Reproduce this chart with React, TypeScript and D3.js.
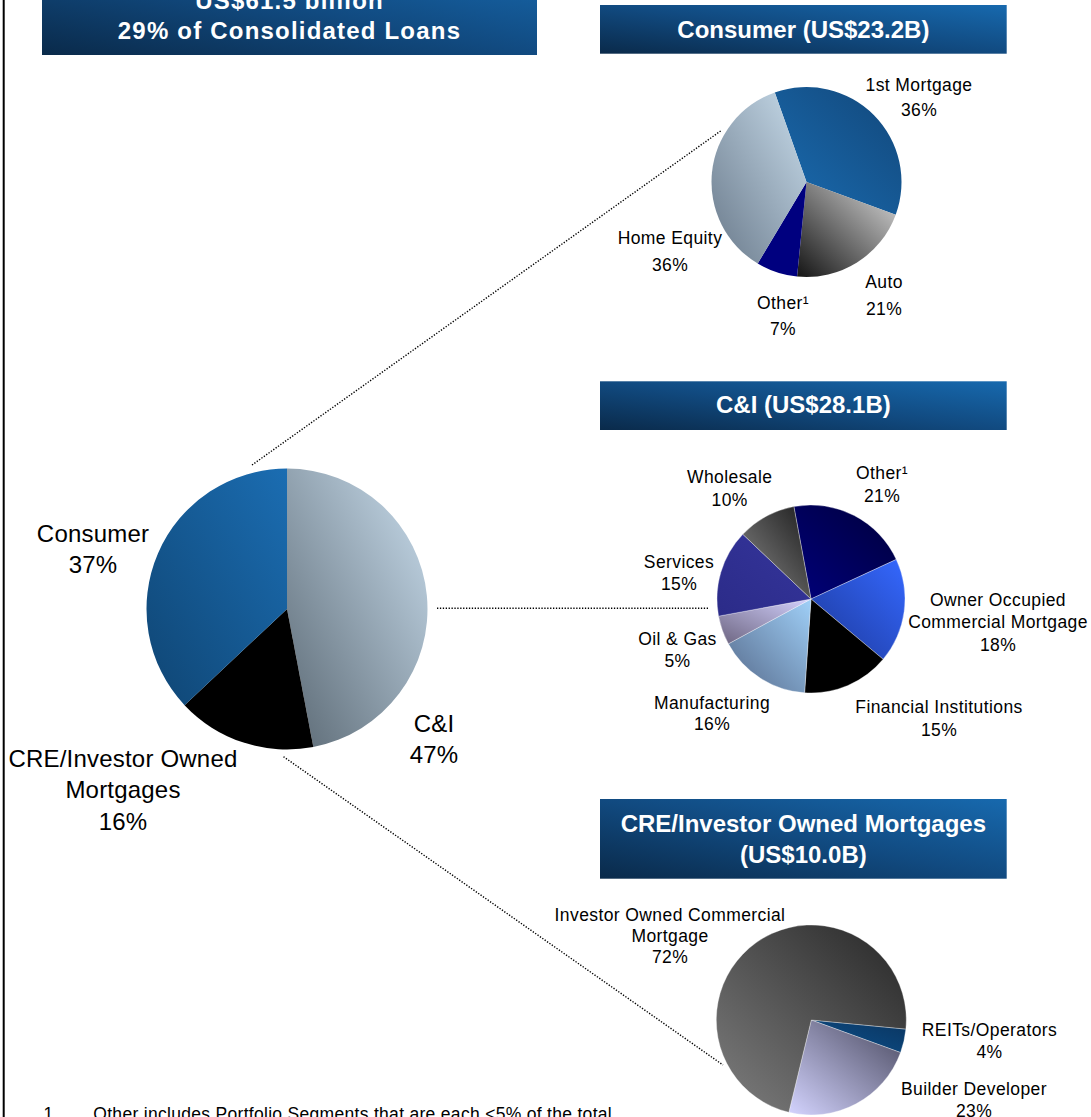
import React from "react";
import * as d3 from "d3";

// ---------- DATA ----------
const mainCategories = ["C&I", "CRE/Investor Owned\nMortgages", "Consumer"];
const mainValues = [47, 16, 37];

const consumerCategories = ["1st Mortgage", "Auto", "Other¹", "Home Equity"];
const consumerValues = [36, 21, 7, 36];

const ciCategories = [
  "Other¹",
  "Owner Occupied\nCommercial Mortgage",
  "Financial Institutions",
  "Manufacturing",
  "Oil & Gas",
  "Services",
  "Wholesale",
];
const ciValues = [21, 18, 15, 16, 5, 15, 10];

const creCategories = ["REITs/Operators", "Builder Developer", "Investor Owned Commercial\nMortgage"];
const creValues = [4, 23, 72];

const mainTitleLines = ["US$61.5 billion", "29% of Consolidated Loans"];
const consumerTitle = ["Consumer (US$23.2B)"];
const ciTitle = ["C&I (US$28.1B)"];
const creTitle = ["CRE/Investor Owned Mortgages", "(US$10.0B)"];
const footnoteNumber = "1";
const footnoteText = "Other includes Portfolio Segments that are each <5% of the total";

// ---------- STYLE / LAYOUT ----------
const FONT = "Arial, 'Liberation Sans', Helvetica, sans-serif";

type Fill = { bl: string; tr: string };
const mainFills: Fill[] = [
  { bl: "#5b6974", tr: "#cadeee" },
  { bl: "#000000", tr: "#000000" },
  { bl: "#0f4573", tr: "#1b6db2" },
];
const consumerFills: Fill[] = [
  { bl: "#1a6cb1", tr: "#12477a" },
  { bl: "#141414", tr: "#dcdcdc" },
  { bl: "#00007f", tr: "#00007f" },
  { bl: "#69798a", tr: "#c9ddec" },
];
const ciFills: Fill[] = [
  { bl: "#00007a", tr: "#00003c" },
  { bl: "#1c3899", tr: "#3568ff" },
  { bl: "#000000", tr: "#000000" },
  { bl: "#55698a", tr: "#a0d0f8" },
  { bl: "#6c6480", tr: "#d4d2ff" },
  { bl: "#2b2b88", tr: "#35359c" },
  { bl: "#8a8a8a", tr: "#1c1c1c" },
];
const creFills: Fill[] = [
  { bl: "#0d518d", tr: "#0a3560" },
  { bl: "#d4d4ff", tr: "#48485e" },
  { bl: "#7f7f7f", tr: "#262626" },
];

type LabelPos = { x: number; y: number; lh: number };
const mainLabelPos: LabelPos[] = [
  { x: 434, y: 731.7, lh: 31.6 },
  { x: 123, y: 766.7, lh: 31.6 },
  { x: 93, y: 541.7, lh: 31.6 },
];
const consumerLabelPos: LabelPos[] = [
  { x: 919, y: 90.7, lh: 25.5 },
  { x: 884, y: 288.3, lh: 26.5 },
  { x: 783, y: 309.3, lh: 25.7 },
  { x: 670, y: 244, lh: 26.5 },
];
const ciLabelPos: LabelPos[] = [
  { x: 882, y: 479, lh: 22.7 },
  { x: 998, y: 606, lh: 22.4 },
  { x: 939, y: 713.3, lh: 22.4 },
  { x: 712, y: 709, lh: 21.2 },
  { x: 677.5, y: 645, lh: 21.7 },
  { x: 679, y: 568.3, lh: 21.7 },
  { x: 729.7, y: 483.3, lh: 22.7 },
];
const creLabelPos: LabelPos[] = [
  { x: 989.5, y: 1036, lh: 22.3 },
  { x: 974, y: 1095, lh: 21.7 },
  { x: 670, y: 920.7, lh: 21.3 },
];

const connectors = [
  [[252, 465], [722, 130]],
  [[437, 608.3], [709, 608.3]],
  [[283.5, 756.7], [723, 1065]],
];

// ---------- COMPONENTS ----------
function Pie(props: {
  id: string;
  values: number[];
  categories: string[];
  fills: Fill[];
  labels: LabelPos[];
  cx: number;
  cy: number;
  r: number;
  startDeg: number;
  fontSize: number;
  letterSpacing: number;
  sep: boolean;
}) {
  const { id, values, categories, fills, labels, cx, cy, r, startDeg, fontSize, letterSpacing, sep } = props;
  const s = (startDeg * Math.PI) / 180;
  const pie = d3
    .pie<number>()
    .sort(null)
    .startAngle(s)
    .endAngle(s + 2 * Math.PI)
    .value((d) => d);
  const arcs = pie(values);
  const arc = d3.arc<d3.PieArcDatum<number>>().innerRadius(0).outerRadius(r);
  return (
    <g>
      <defs>
        {fills.map((f, i) => (
          <linearGradient key={i} id={`${id}-g${i}`} x1="0" y1="1" x2="1" y2="0">
            <stop offset="0" stopColor={f.bl} />
            <stop offset="1" stopColor={f.tr} />
          </linearGradient>
        ))}
      </defs>
      <g transform={`translate(${cx},${cy})`}>
        {arcs.map((a, i) => (
          <path
            key={i}
            d={arc(a) || ""}
            fill={`url(#${id}-g${i})`}
            stroke={sep ? "rgba(255,255,255,0.55)" : "none"}
            strokeWidth={sep ? 0.6 : 0}
          />
        ))}
      </g>
      {categories.map((c, i) => {
        const lines = c.split("\n").concat([`${values[i]}%`]);
        const p = labels[i];
        return (
          <text
            key={i}
            textAnchor="middle"
            fontFamily={FONT}
            fontSize={fontSize}
            letterSpacing={letterSpacing}
            fill="#000"
          >
            {lines.map((l, j) => (
              <tspan key={j} x={p.x} y={p.y + j * p.lh}>
                {l}
              </tspan>
            ))}
          </text>
        );
      })}
    </g>
  );
}

function Header(props: {
  id: string;
  x: number;
  y: number;
  w: number;
  h: number;
  lines: string[];
  baselines: number[];
  letterSpacing?: number;
}) {
  const { id, x, y, w, h, lines, baselines, letterSpacing = 0 } = props;
  return (
    <g>
      <defs>
        <linearGradient id={id} x1="0" y1="1" x2="1" y2="0">
          <stop offset="0" stopColor="#0a2a4a" />
          <stop offset="0.5" stopColor="#114a80" />
          <stop offset="1" stopColor="#1769ae" />
        </linearGradient>
      </defs>
      <rect x={x} y={y} width={w} height={h} fill={`url(#${id})`} />
      {lines.map((l, i) => (
        <text
          key={i}
          x={x + w / 2}
          y={baselines[i]}
          textAnchor="middle"
          fontFamily={FONT}
          fontWeight="bold"
          fontSize={24}
          letterSpacing={letterSpacing}
          fill="#ffffff"
        >
          {l}
        </text>
      ))}
    </g>
  );
}

export default function App() {
  return (
    <svg
      width={1091}
      height={1117}
      viewBox="0 0 1091 1117"
      style={{ position: "absolute", left: 0, top: 0, display: "block", background: "#fff" }}
    >
      <rect x={0} y={0} width={1091} height={1117} fill="#fff" />
      {/* left frame line */}
      <rect x={2.7} y={0} width={2} height={1117} fill="#000" />

      <Header id="hMain" x={42} y={-40} w={495} h={95} lines={mainTitleLines} baselines={[9, 39.3]} letterSpacing={1.2} />
      <Header id="hCons" x={600} y={5} w={406.7} h={48.7} lines={consumerTitle} baselines={[38.3]} />
      <Header id="hCI" x={600} y={381.3} w={406.7} h={48.7} lines={ciTitle} baselines={[413.3]} />
      <Header id="hCRE" x={600} y={799} w={406.7} h={79.7} lines={creTitle} baselines={[831.7, 862.7]} />

      {connectors.map((c, i) => (
        <line
          key={i}
          x1={c[0][0]}
          y1={c[0][1]}
          x2={c[1][0]}
          y2={c[1][1]}
          stroke="#000"
          strokeWidth={1.4}
          strokeDasharray="1.3 1.6"
        />
      ))}

      <Pie
        id="main"
        values={mainValues}
        categories={mainCategories}
        fills={mainFills}
        labels={mainLabelPos}
        cx={287}
        cy={609}
        r={140.5}
        startDeg={0}
        fontSize={24}
        letterSpacing={0.2}
        sep={false}
      />
      <Pie
        id="cons"
        values={consumerValues}
        categories={consumerCategories}
        fills={consumerFills}
        labels={consumerLabelPos}
        cx={806.5}
        cy={182}
        r={95}
        startDeg={-19.5}
        fontSize={17.5}
        letterSpacing={0.4}
        sep={false}
      />
      <Pie
        id="ci"
        values={ciValues}
        categories={ciCategories}
        fills={ciFills}
        labels={ciLabelPos}
        cx={811}
        cy={599}
        r={94}
        startDeg={-10.5}
        fontSize={17.5}
        letterSpacing={0.4}
        sep={true}
      />
      <Pie
        id="cre"
        values={creValues}
        categories={creCategories}
        fills={creFills}
        labels={creLabelPos}
        cx={811.3}
        cy={1020}
        r={95}
        startDeg={95.5}
        fontSize={17.5}
        letterSpacing={0.4}
        sep={true}
      />

      <text x={43.5} y={1120} fontFamily={FONT} fontSize={17.5} fill="#000">
        {footnoteNumber}
      </text>
      <text x={93.3} y={1120} fontFamily={FONT} fontSize={17.5} letterSpacing={0.3} fill="#000">
        {footnoteText}
      </text>
    </svg>
  );
}
